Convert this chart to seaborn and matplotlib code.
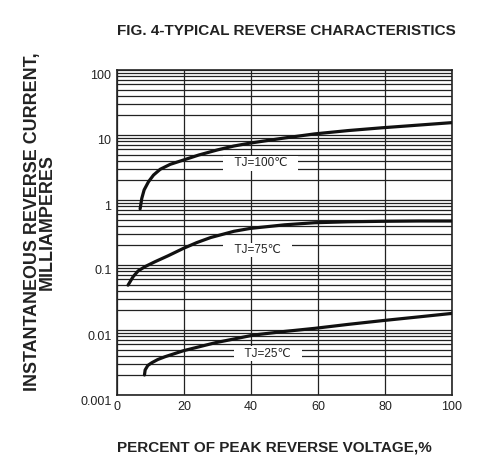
import numpy as np
import pandas as pd
import seaborn as sns
import matplotlib.pyplot as plt
import matplotlib.transforms as mtransforms
from matplotlib.ticker import LogLocator, NullFormatter

# values (percent of VRRM -> mA)
x_100 = [6.9, 7.4, 8.1, 9.4, 10.9, 12.9, 15.9, 19.9, 24.4, 30, 34.9, 39.7, 50, 59, 69, 79, 90, 100]
y_100 = [0.73, 1.06, 1.43, 1.91, 2.42, 2.97, 3.54, 4.13, 4.92, 5.9, 6.77, 7.5, 9.0, 10.4, 11.7, 12.9, 14.2, 15.5]

x_75 = [3.3, 4.8, 6.3, 8.3, 11.3, 15.3, 19.8, 23.8, 28, 34.9, 39.7, 50, 59, 69, 79, 90, 100]
y_75 = [0.049, 0.066, 0.081, 0.094, 0.112, 0.139, 0.18, 0.221, 0.265, 0.33, 0.365, 0.415, 0.447, 0.462, 0.47, 0.475, 0.475]

x_25 = [8.2, 8.4, 9.2, 10.4, 12.2, 14.4, 19.9, 29.4, 40.9, 50, 59, 69, 79, 90, 100]
y_25 = [0.00203, 0.00243, 0.00285, 0.00314, 0.00352, 0.00389, 0.00481, 0.00638, 0.00838, 0.0095, 0.0106, 0.0122, 0.0139, 0.0159, 0.018]

curve_names = ["TJ=100℃", "TJ=75℃", "TJ=25℃"]
label_pos = [(42.9, 3.67), (41.9, 0.17), (45.0, 0.0043)]

x_ticks = [0, 20, 40, 60, 80, 100]
y_ticks = [0.001, 0.01, 0.1, 1, 10, 100]
y_ticklabels = ["0.001", "0.01", "0.1", "1", "10", "100"]

df = pd.concat([
    pd.DataFrame({"pct": x_100, "current": y_100, "curve": curve_names[0]}),
    pd.DataFrame({"pct": x_75, "current": y_75, "curve": curve_names[1]}),
    pd.DataFrame({"pct": x_25, "current": y_25, "curve": curve_names[2]}),
])

sns.set_theme(style="white")
plt.rcParams["font.family"] = ["Liberation Sans", "DejaVu Sans"]

fig = plt.figure(figsize=(5.04, 4.73), dpi=100)
ax = fig.add_axes([117 / 504, 1 - 395 / 473, 335 / 504, 325 / 473])

ax.set_yscale("log")
sns.lineplot(data=df, x="pct", y="current", hue="curve",
             palette=["#111111"] * 3, linewidth=2.3, legend=False,
             sort=False, ax=ax, zorder=3)
for ln in ax.lines:
    ln.set_solid_capstyle("round")
    ln.set_solid_joinstyle("round")

ax.set_xlim(0, 100)
ax.set_ylim(0.001, 100)
ax.set_xticks(x_ticks)
ax.set_yticks(y_ticks)
ax.set_yticklabels(y_ticklabels)
ax.yaxis.set_minor_locator(LogLocator(base=10, subs=np.arange(2, 10)))
ax.yaxis.set_minor_formatter(NullFormatter())

ax.grid(True, which="both", axis="y", color="#222222", linewidth=0.9)
ax.grid(True, which="major", axis="x", color="#222222", linewidth=0.9)
for s in ax.spines.values():
    s.set_color("#222222")
    s.set_linewidth(1.2)

ax.tick_params(axis="both", which="both", length=0, labelsize=9, colors="#222222", pad=4)
offset = mtransforms.ScaledTranslation(0, -5 / 100, fig.dpi_scale_trans)
for lab in ax.get_yticklabels():
    lab.set_transform(lab.get_transform() + offset)

for name, (lx, ly) in zip(curve_names, label_pos):
    ax.text(lx, ly, "   " + name + "   ", ha="center", va="center", fontsize=8.5,
            color="#222222", zorder=4,
            bbox=dict(facecolor="white", edgecolor="none", pad=1.0))

ax.set_xlabel("")
ax.set_ylabel("")
fig.text(286 / 504, 1 - 31 / 473, "FIG. 4-TYPICAL REVERSE CHARACTERISTICS",
         ha="center", va="center", fontsize=11, fontweight="bold", color="#222222")
fig.text(117 / 504, 1 - 447 / 473, "PERCENT OF PEAK REVERSE VOLTAGE,%",
         ha="left", va="center", fontsize=11, fontweight="bold", color="#222222")
fig.text(40 / 504, 1 - 222 / 473, "INSTANTANEOUS REVERSE CURRENT,\nMILLIAMPERES",
         ha="center", va="center", rotation=90, fontsize=12.9, fontweight="bold",
         color="#222222", linespacing=0.85, multialignment="center")

fig.savefig("out.png", dpi=100)
